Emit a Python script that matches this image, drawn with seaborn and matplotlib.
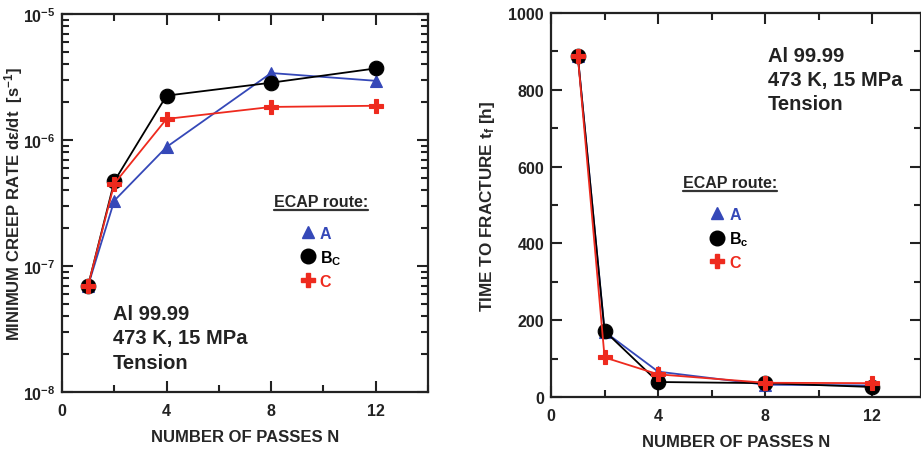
import math
import matplotlib
matplotlib.use("Agg")
import matplotlib.pyplot as plt
from matplotlib.lines import Line2D
from matplotlib.ticker import FixedLocator, MultipleLocator, LogLocator, FuncFormatter, NullFormatter
import seaborn as sns
import pandas as pd

# ECAP passes and measured quantities per route
passes = [1, 2, 4, 8, 12]
routes = ["A", "Bc", "C"]
creep_rate_A = [7.0e-8, 3.3e-7, 8.8e-7, 3.4e-6, 2.95e-6]
creep_rate_Bc = [7.0e-8, 4.7e-7, 2.25e-6, 2.85e-6, 3.7e-6]
creep_rate_C = [7.0e-8, 4.5e-7, 1.47e-6, 1.83e-6, 1.87e-6]
fracture_time_A = [888, 170, 66, 32, 30]
fracture_time_Bc = [888, 172, 39, 36, 26]
fracture_time_C = [888, 103, 59, 37, 36]

x_ticks = [0, 4, 8, 12]
legend_labels_left = ["A", r"B$_\mathbf{C}$", "C"]
legend_labels_right = ["A", r"B$_\mathbf{c}$", "C"]
note_text = "Al 99.99\n473 K, 15 MPa\nTension"

sns.set_theme(style="ticks")
plt.rcParams["font.family"] = ["Liberation Sans", "DejaVu Sans"]
plt.rcParams["font.weight"] = "bold"
plt.rcParams["axes.labelweight"] = "bold"
plt.rcParams["mathtext.fontset"] = "custom"
plt.rcParams["mathtext.rm"] = "Liberation Sans:bold"
plt.rcParams["mathtext.bf"] = "Liberation Sans:bold"
plt.rcParams["mathtext.it"] = "Liberation Sans:bold"
plt.rcParams["mathtext.default"] = "bf"

BLUE = "#3548b8"
RED = "#ee2a1e"
BLACK = "#000000"
styles = {
    "A": dict(color=BLUE, marker="^", ms=9),
    "Bc": dict(color=BLACK, marker="o", ms=10.5),
    "C": dict(color=RED, marker="P", ms=10.5),
}

df = pd.DataFrame({
    "N": passes * 3,
    "route": [r for r in routes for _ in passes],
    "rate": creep_rate_A + creep_rate_Bc + creep_rate_C,
    "tf": fracture_time_A + fracture_time_Bc + fracture_time_C,
})

fig = plt.figure(figsize=(9.21, 4.52), dpi=100)
ax1 = fig.add_axes([0.0673, 0.1305, 0.3974, 0.8363])
ax2 = fig.add_axes([0.5983, 0.1195, 0.4012, 0.8496])


def draw_series(ax, col):
    for r in routes:
        st = styles[r]
        sub = df[df["route"] == r]
        sns.lineplot(data=sub, x="N", y=col, ax=ax, color=st["color"],
                     marker=st["marker"], markersize=st["ms"],
                     markeredgecolor=st["color"], markeredgewidth=0.8,
                     linewidth=1.3, legend=False)


def style_axes(ax):
    for s in ax.spines.values():
        s.set_linewidth(1.6)
        s.set_color("#222222")
    ax.tick_params(which="both", direction="in", top=True, right=True,
                   colors="#222222", labelsize=11.5, width=1.5)
    ax.tick_params(which="major", length=8, pad=5)
    ax.tick_params(axis="x", which="major", pad=8)
    ax.tick_params(which="minor", length=5)
    ax.xaxis.set_major_locator(FixedLocator(x_ticks))
    ax.xaxis.set_minor_locator(MultipleLocator(2))
    ax.set_xlim(0, 13.8 if ax is ax2 else 14)
    for lab in ax.get_xticklabels() + ax.get_yticklabels():
        lab.set_fontweight("bold")
    ax.set_xlabel("NUMBER OF PASSES N", fontsize=12, fontweight="bold", labelpad=8)


def add_legend(ax, labels, anchor):
    handles = [Line2D([], [], linestyle="none", marker=styles[r]["marker"],
                      color=styles[r]["color"], markeredgecolor=styles[r]["color"],
                      markersize=styles[r]["ms"]) for r in routes]
    leg = ax.legend(handles, labels, title="ECAP route:", loc="upper center",
                    bbox_to_anchor=anchor, frameon=False, handlelength=0.8,
                    handletextpad=0.35, labelspacing=0.45, borderpad=0,
                    fontsize=11.5, title_fontproperties={"weight": "bold", "size": 11.5},
                    labelcolor=[styles[r]["color"] for r in routes])
    leg._legend_box.sep = 12
    for t in leg.get_texts():
        t.set_fontweight("bold")
    return leg


# left panel: minimum creep rate
draw_series(ax1, "rate")
ax1.set_yscale("log")
ax1.set_ylim(1e-8, 1e-5)
ax1.yaxis.set_major_locator(LogLocator(base=10, numticks=10))
ax1.yaxis.set_minor_locator(LogLocator(base=10, subs=range(2, 10), numticks=20))
ax1.yaxis.set_minor_formatter(NullFormatter())
ax1.yaxis.set_major_formatter(FuncFormatter(lambda v, p: r"$\mathbf{10^{%d}}$" % round(math.log10(v))))
style_axes(ax1)
ax1.set_ylabel(r"MINIMUM CREEP RATE d$\epsilon$/dt  [s$^{-1}$]", fontsize=12,
               fontweight="bold")
ax1.yaxis.set_label_coords(-0.101, 0.5)
ax1.text(0.139, 0.232, note_text, transform=ax1.transAxes, ha="left", va="top",
         fontsize=14.5, fontweight="bold", color="#222222", linespacing=1.34)
leg1 = add_legend(ax1, legend_labels_left, (0.708, 0.545))

# right panel: time to fracture
draw_series(ax2, "tf")
ax2.set_ylim(0, 1000)
ax2.yaxis.set_major_locator(MultipleLocator(200))
ax2.yaxis.set_minor_locator(MultipleLocator(100))
style_axes(ax2)
ax2.set_ylabel(r"TIME TO FRACTURE t$_\mathbf{f}$ [h]", fontsize=12.3, fontweight="bold", labelpad=8)
ax2.text(0.586, 0.915, note_text, transform=ax2.transAxes, ha="left", va="top",
         fontsize=14.5, fontweight="bold", color="#222222", linespacing=1.34)
leg2 = add_legend(ax2, legend_labels_right, (0.484, 0.598))

# underline the legend titles
fig.canvas.draw()
inv = fig.transFigure.inverted()
for leg in (leg1, leg2):
    bb = leg.get_title().get_window_extent()
    (x0, y0), (x1, _) = inv.transform([(bb.x0, bb.y0 - 1), (bb.x1, bb.y0)])
    fig.add_artist(Line2D([x0, x1], [y0, y0], transform=fig.transFigure,
                          color="#333333", linewidth=1.6))

fig.savefig("out.png", dpi=100)
